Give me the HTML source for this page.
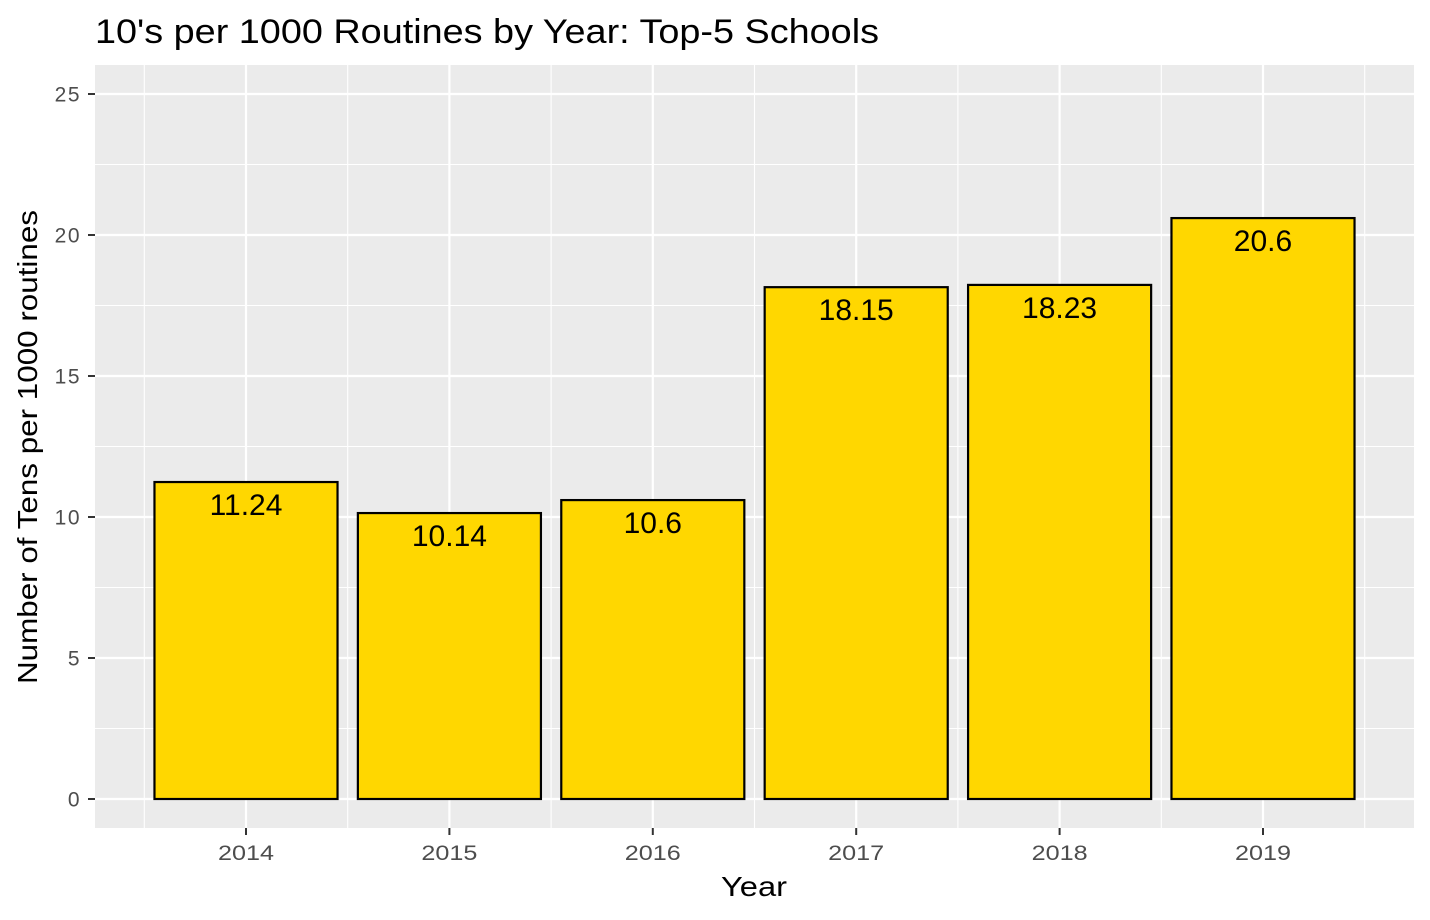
<!DOCTYPE html>
<html><head><meta charset="utf-8"><style>
body{margin:0;background:#fff;}
svg{display:block;font-family:"Liberation Sans",Arial,sans-serif;}
</style></head><body>
<svg id="chart" width="1430" height="920">
<text x="95" y="43" font-size="34" textLength="784" lengthAdjust="spacingAndGlyphs" fill="#000">10's per 1000 Routines by Year: Top-5 Schools</text>
<rect x="95" y="65" width="1319" height="763" fill="#ebebeb"/>
<g id="grid"></g>
<g id="bars"></g>
<g id="axes"></g>
<text x="754" y="896" font-size="28" textLength="66" lengthAdjust="spacingAndGlyphs" text-anchor="middle" fill="#000">Year</text>
<text transform="translate(37,447) rotate(-90)" font-size="28" textLength="474" lengthAdjust="spacingAndGlyphs" text-anchor="middle" fill="#000">Number of Tens per 1000 routines</text>
</svg>
<script>
const categories=["2014","2015","2016","2017","2018","2019"];
const values=[11.24,10.14,10.6,18.15,18.23,20.6];
const labels=["11.24","10.14","10.6","18.15","18.23","20.6"];
const yTicks=[0,5,10,15,20,25];
const NS="http://www.w3.org/2000/svg";
const y0=799,pxPerUnit=28.2;
function yScale(v){return y0-v*pxPerUnit;}
const x0=246,step=203.4;
function xScale(i){return x0+i*step;}
const bw=step*0.9;
function mk(tag,attrs,parent){const e=document.createElementNS(NS,tag);for(const k in attrs)e.setAttribute(k,attrs[k]);parent.appendChild(e);return e;}
const grid=document.getElementById('grid'),bars=document.getElementById('bars'),axes=document.getElementById('axes');
for(let i=0;i<yTicks.length-1;i++){const v=(yTicks[i]+yTicks[i+1])/2;
 const l=mk('line',{x1:95,x2:1414,y1:yScale(v),y2:yScale(v),stroke:'#fff','stroke-width':1.1},grid);
 
 }
for(let i=0;i<=categories.length;i++){const x=xScale(i-0.5);
 const l=mk('line',{x1:x,x2:x,y1:65,y2:828,stroke:'#fff','stroke-width':1.1},grid);
 
 }
yTicks.forEach(v=>{const y=yScale(v);
 const l=mk('line',{x1:95,x2:1414,y1:y,y2:y,stroke:'#fff','stroke-width':2.2},grid);
 
 
 const t=mk('line',{x1:88,x2:95,y1:y,y2:y,stroke:'#333','stroke-width':2},axes);
 
 
 const tx=mk('text',{x:81,y:y+7.5,'font-size':21,'text-anchor':'end',fill:'#4d4d4d','letter-spacing':1.5},axes);
 tx.textContent=v;
 
 });
categories.forEach((c,i)=>{const x=xScale(i);
 const l=mk('line',{x1:x,x2:x,y1:65,y2:828,stroke:'#fff','stroke-width':2.2},grid);
 
 
 const t=mk('line',{x1:x,x2:x,y1:828,y2:835,stroke:'#333','stroke-width':2},axes);
 
 
 const tx=mk('text',{x:x,y:860,'font-size':21,'text-anchor':'middle',fill:'#4d4d4d',textLength:56,lengthAdjust:'spacingAndGlyphs'},axes);
 tx.textContent=c;
 
 
 const top=yScale(values[i]);
 const b=mk('rect',{x:x-bw/2,y:top,width:bw,height:y0-top,fill:'#ffd700',stroke:'#000','stroke-width':2.2},bars);
 
 
 const lb=mk('text',{x:x,y:top+33,'font-size':30,'text-anchor':'middle',fill:'#000'},bars);
 lb.textContent=labels[i];
 
 });
</script>
</body></html>
